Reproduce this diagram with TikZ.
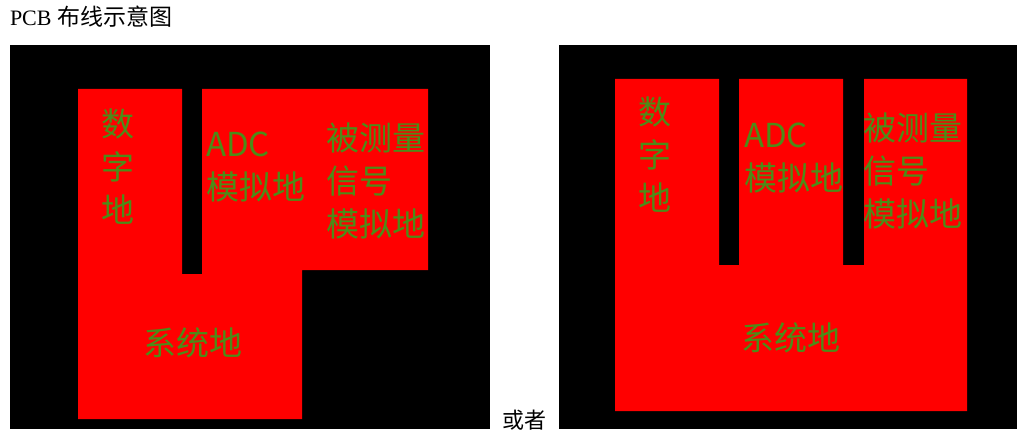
\documentclass[tikz,border=0pt]{standalone}
\usepackage{fontspec}
\setmainfont{Liberation Serif}
\newfontfamily\cjk{Noto Sans CJK SC}
\definecolor{padgreen}{RGB}{76,140,24}

\begin{document}
\begin{tikzpicture}[x=1pt,y=-1pt,inner sep=0pt,outer sep=0pt,
	board/.style={fill=black},
	copper/.style={fill=red},
	net/.style={text=padgreen,font=\cjk\fontsize{33}{43}\selectfont},
	caption/.style={font=\fontsize{22}{24}\selectfont}]
	\useasboundingbox (0,0) rectangle (1026,444);
	\node[caption,anchor=west] (title) at (10,17) {PCB {\cjk\fontsize{23}{24}\selectfont 布线示意图}} ;
	% left board: slot between digital and ADC ground
	\fill[board] (10,45) rectangle (490,429) ;
	\fill[copper] (78,89) -| (182,274) -| (202,89) -| (428,270) -| (302,419) -- (78,419) -- cycle ;
	\node[net,align=center] (dgndA) at (118,167) {数\\字\\地} ;
	\node[net,align=left,anchor=west] (agndA) at (206,167) {ADC\\模拟地} ;
	\node[net,align=left,anchor=west] (sgndA) at (326,181) {被测量\\信号\\模拟地} ;
	\node[net] (gndA) at (193,343) {系统地} ;
	\node[caption] (or) at (524,420) {\cjk 或者} ;
	% right board: two slots
	\fill[board] (559,45) rectangle (1017,429) ;
	\fill[copper] (615,79) -| (719,265) -| (739,79) -| (843,265) -| (864,79) -| (967,411) -- (615,411) -- cycle ;
	\node[net,align=center] (dgndB) at (655,155) {数\\字\\地} ;
	\node[net,align=left,anchor=west] (agndB) at (744,158) {ADC\\模拟地} ;
	\node[net,align=left,anchor=west] (sgndB) at (863,171) {被测量\\信号\\模拟地} ;
	\node[net] (gndB) at (791,338) {系统地} ;
\end{tikzpicture}
\end{document}
